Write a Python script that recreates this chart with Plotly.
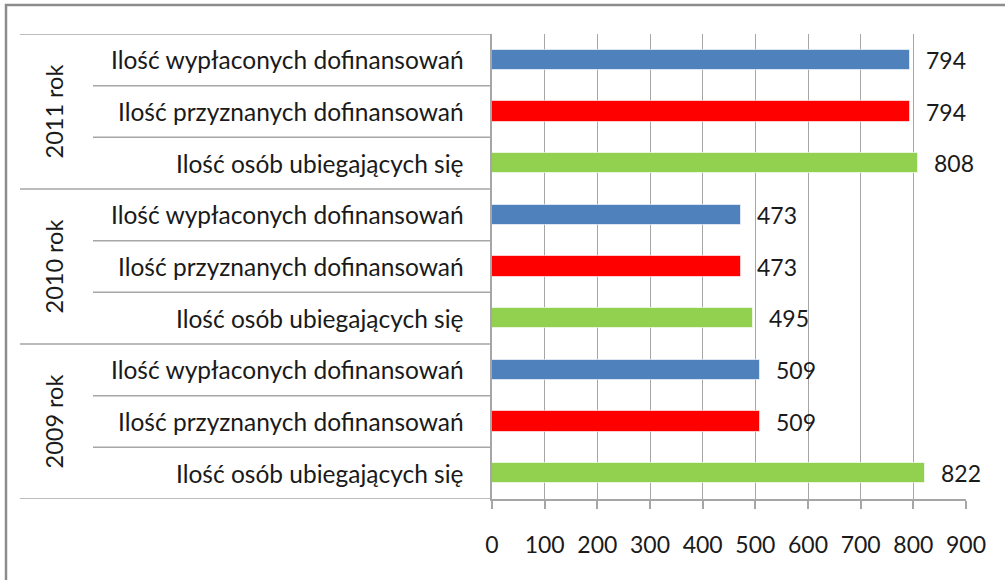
import plotly.graph_objects as go

years = ["2009 rok", "2010 rok", "2011 rok"]
series_names = ["Ilość osób ubiegających się", "Ilość przyznanych dofinansowań", "Ilość wypłaconych dofinansowań"]
ubiegajacych = [822, 495, 808]
przyznanych = [509, 473, 794]
wyplaconych = [509, 473, 794]
series_values = [ubiegajacych, przyznanych, wyplaconych]
colors = ["#92D050", "#FF0000", "#4F81BD"]
x_ticks = [0, 100, 200, 300, 400, 500, 600, 700, 800, 900]

W, H = 1005, 580
L, R, T, B = 492, 966, 34, 499
FONT = "Lato"
TXT = "#1a1a1a"
GRID = "#A6A6A6"

def px_x(p):
    return (p - L) / (R - L)

def px_y(p):
    return (B - p) / (B - T)

fig = go.Figure()
n_s = len(series_names)
for s, (name, vals, col) in enumerate(zip(series_names, series_values, colors)):
    ys = [g * n_s + s for g in range(len(years))]
    fig.add_trace(go.Bar(
        x=vals, y=ys, orientation="h", name=name,
        marker=dict(color=col, line=dict(color="rgba(255,255,255,0.6)", width=1)),
        width=0.39, showlegend=False, hoverinfo="x+name",
    ))

annotations = []
shapes = []
for g, yr in enumerate(years):
    for s, (name, vals) in enumerate(zip(series_names, series_values)):
        yi = g * n_s + s
        annotations.append(dict(
            x=px_x(466), xref="paper", y=yi, yref="y", text=name,
            xanchor="right", yanchor="middle", showarrow=False,
            font=dict(family=FONT, size=24.5, color=TXT)))
        annotations.append(dict(
            x=vals[g], xref="x", y=yi, yref="y", text=str(vals[g]),
            xanchor="left", yanchor="middle", showarrow=False, xshift=14,
            font=dict(family=FONT, size=23, color=TXT)))
    annotations.append(dict(
        x=px_x(53), xref="paper", y=g * n_s + 1, yref="y", text=yr,
        textangle=-90, xanchor="center", yanchor="middle", showarrow=False,
        font=dict(family=FONT, size=23.5, color=TXT)))
    top = g * n_s + n_s - 0.5
    shapes.append(dict(type="line", xref="paper", yref="y",
                       x0=px_x(20), x1=0, y0=top, y1=top,
                       line=dict(color=GRID, width=1.5)))
    for s in range(n_s - 1):
        yy = g * n_s + s + 0.5
        shapes.append(dict(type="line", xref="paper", yref="y",
                           x0=px_x(93), x1=0, y0=yy, y1=yy,
                           line=dict(color=GRID, width=1.5)))
shapes.append(dict(type="line", xref="paper", yref="y",
                   x0=px_x(20), x1=0, y0=-0.5, y1=-0.5,
                   line=dict(color=GRID, width=1.5)))
# outer frame
shapes.append(dict(type="rect", xref="paper", yref="paper",
                   x0=px_x(6), x1=px_x(1010), y0=px_y(590), y1=px_y(5),
                   line=dict(color="#8C8C8C", width=2.5), layer="below"))

fig.update_layout(
    width=W, height=H,
    margin=dict(l=L, r=W - R, t=T, b=H - B, pad=0),
    plot_bgcolor="white", paper_bgcolor="white",
    barmode="overlay", bargap=0,
    xaxis=dict(range=[0, 900], tickvals=x_ticks, ticktext=[str(v) for v in x_ticks],
               showgrid=True, gridcolor=GRID, gridwidth=1,
               showline=True, linecolor=GRID, linewidth=1.5,
               ticks="outside", ticklen=8, tickcolor=GRID, tickwidth=1.5,
               ticklabelstandoff=17,
               tickfont=dict(family=FONT, size=23, color=TXT), zeroline=False,
               fixedrange=True),
    yaxis=dict(range=[-0.5, len(years) * n_s - 0.5], showticklabels=False,
               showgrid=False, zeroline=False, showline=True, linecolor=GRID,
               linewidth=1.5, mirror=False, fixedrange=True),
    annotations=annotations, shapes=shapes,
)
fig.write_html("out.html", config={"displayModeBar": False},
               post_script="document.body.style.margin='0';document.body.style.overflow='hidden';")
